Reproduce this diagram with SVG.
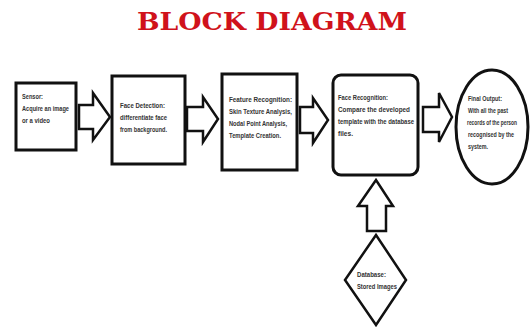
<svg xmlns="http://www.w3.org/2000/svg" width="530" height="328" viewBox="0 0 530 328">
<style>
.box{fill:#fff;stroke:#111;stroke-width:3}
.arr{fill:#fff;stroke:#111;stroke-width:2.5;stroke-linejoin:miter}
.t{font-family:"Liberation Sans",Arial,sans-serif;font-size:8px;font-weight:bold;fill:#333}
.title{font-family:"DejaVu Serif","Liberation Serif",serif;font-weight:bold;font-size:24px;fill:#d0121b}
</style>
<rect width="530" height="328" fill="#fff"/>
<text class="title" x="137" y="30" textLength="270" lengthAdjust="spacingAndGlyphs">BLOCK DIAGRAM</text>
<g id="connectors">
<polygon class="arr" points="79,105 93,105 93,93 110,117 93,140 93,129 79,129"/>
<polygon class="arr" points="187,107 203,107 203,97 218,119 203,142 203,131 187,131"/>
<polygon class="arr" points="300,107 313,107 313,98 328,120 313,143 313,133 300,133"/>
<polygon class="arr" points="423,107 439,107 439,93 452,117 439,142 439,132 423,132"/>
<polygon class="arr" points="367,231 367,206 358,206 376,180 393,206 386,206 386,231"/>
</g>
<g id="sensor">
<rect class="box" x="16" y="83" width="60" height="67"/>
<text class="t" x="22" y="99" textLength="21" lengthAdjust="spacingAndGlyphs">Sensor:</text>
<text class="t" x="22" y="111" textLength="47" lengthAdjust="spacingAndGlyphs">Acquire an image</text>
<text class="t" x="22" y="123" textLength="28" lengthAdjust="spacingAndGlyphs">or a video</text>
</g>
<g id="face-detection">
<rect class="box" x="112" y="76" width="73" height="88"/>
<text class="t" x="120" y="108" textLength="45" lengthAdjust="spacingAndGlyphs">Face Detection:</text>
<text class="t" x="120" y="120" textLength="47" lengthAdjust="spacingAndGlyphs">differentiate face</text>
<text class="t" x="120" y="132" textLength="47" lengthAdjust="spacingAndGlyphs">from background.</text>
</g>
<g id="feature-recognition">
<rect class="box" x="222" y="74" width="75" height="96"/>
<text class="t" x="229" y="102" textLength="63" lengthAdjust="spacingAndGlyphs">Feature Recognition:</text>
<text class="t" x="229" y="114" textLength="63" lengthAdjust="spacingAndGlyphs">Skin Texture Analysis,</text>
<text class="t" x="229" y="126" textLength="58" lengthAdjust="spacingAndGlyphs">Nodal Point Analysis,</text>
<text class="t" x="229" y="138" textLength="52" lengthAdjust="spacingAndGlyphs">Template Creation.</text>
</g>
<g id="face-recognition">
<rect class="box" x="333" y="75" width="85" height="100" rx="8"/>
<text class="t" x="338" y="100" textLength="50" lengthAdjust="spacingAndGlyphs">Face Recognition:</text>
<text class="t" x="338" y="112" textLength="72" lengthAdjust="spacingAndGlyphs">Compare the developed</text>
<text class="t" x="338" y="124" textLength="76" lengthAdjust="spacingAndGlyphs">template with the database</text>
<text class="t" x="338" y="136" textLength="15" lengthAdjust="spacingAndGlyphs">files.</text>
</g>
<g id="final-output">
<ellipse class="box" cx="492" cy="127" rx="36" ry="57"/>
<text class="t" x="468" y="101" textLength="34" lengthAdjust="spacingAndGlyphs">Final Output:</text>
<text class="t" x="468" y="113" textLength="40" lengthAdjust="spacingAndGlyphs">With all the past</text>
<text class="t" x="467" y="125" textLength="50" lengthAdjust="spacingAndGlyphs">records of the person</text>
<text class="t" x="468" y="137" textLength="46" lengthAdjust="spacingAndGlyphs">recognised by the</text>
<text class="t" x="468" y="149" textLength="20" lengthAdjust="spacingAndGlyphs">system.</text>
</g>
<g id="database">
<polygon class="arr" points="376,235 406,280 376,325 345,280"/>
<text class="t" x="357" y="277" textLength="29" lengthAdjust="spacingAndGlyphs">Database:</text>
<text class="t" x="357" y="289" textLength="40" lengthAdjust="spacingAndGlyphs">Stored Images</text>
</g>
</svg>
